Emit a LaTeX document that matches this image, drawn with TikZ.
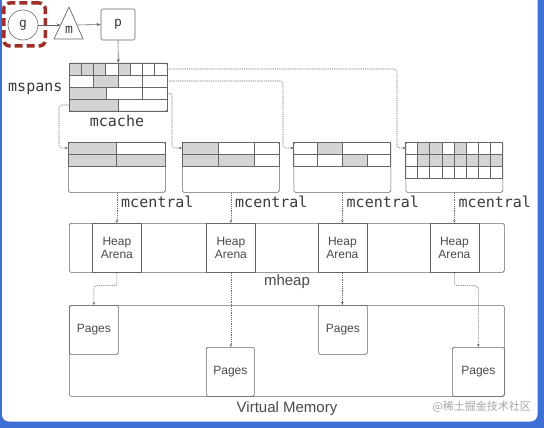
\documentclass[tikz,border=0pt]{standalone}
\usepackage{fontspec}
\setmainfont{Liberation Sans}
\newfontfamily\monof{DejaVu Sans Mono}
\newfontfamily\cjkf{Noto Sans CJK SC}
\usetikzlibrary{arrows.meta,calc}
\definecolor{frameblue}{HTML}{3E6FD5}
\definecolor{linec}{HTML}{666666}
\definecolor{cellg}{HTML}{D4D4D4}
\definecolor{cellw}{HTML}{FFFFFF}
\definecolor{txt}{HTML}{3A3A3A}
\definecolor{stxt}{HTML}{4A4A4A}
\definecolor{gred}{HTML}{9E2F29}
\begin{document}
\begin{tikzpicture}[x=1pt,y=-1pt,
  box/.style={draw=linec, line width=0.7pt, rounded corners=1.5pt, inner sep=0pt, anchor=north west},
  sqbox/.style={draw=linec, line width=0.7pt, inner sep=0pt, anchor=north west},
  cell/.style={draw=linec, line width=0.6pt},
  conn/.style={draw=linec, line width=0.6pt, -{Stealth[length=4pt,width=3pt]}},
  dconn/.style={draw=linec, line width=0.55pt, dash pattern=on 1.2pt off 1pt, rounded corners=3pt, -{Stealth[length=3pt,width=2.5pt]}},
  mono/.style={font=\monof\fontsize{15}{17}\selectfont, text=txt, inner sep=0pt},
  sans/.style={font=\fontsize{12}{13}\selectfont, text=stxt, align=center},
  big/.style={font=\fontsize{15}{17}\selectfont, text=stxt, inner sep=0pt},
]
\useasboundingbox (0,0) rectangle (544,428);
% frame
\fill[frameblue] (0,0) rectangle (544,428);
\fill[white, rounded corners=7pt] (2,-10) rectangle (537.5,421.5);

% g, m, p
\node[circle, draw=linec, line width=0.6pt, minimum size=30pt, inner sep=0pt, font=\monof\fontsize{13}{15}\selectfont, text=txt] (g) at (23,25) {g};
\node[draw=gred, line width=3.5pt, dash pattern=on 8pt off 4pt, rounded corners=6pt, minimum width=41.5pt, minimum height=43pt, inner sep=0pt] (gsel) at (24.5,24.5) {};
\coordinate (mtop) at (69,7);
\coordinate (mbl) at (54,39);
\coordinate (mbr) at (83,39);
\draw[linec, line width=0.7pt, line join=round] (mtop) -- (mbl) -- (mbr) -- cycle;
\node[font=\monof\fontsize{13}{15}\selectfont, text=txt] (m) at (69,30) {m};
\coordinate (mleft) at (60.5,25);
\coordinate (mright) at (77.5,25);
\node[box, anchor=center, minimum width=34pt, minimum height=31pt, font=\monof\fontsize{13}{15}\selectfont, text=txt] (p) at (118,24.5) {p};
\draw[conn] (g.east) -- (mleft);
\draw[conn] (mright) -- (p.west);

% mcache
\foreach \c [count=\i from 0] in {g,g,g,w,g,w,w,w}
  \draw[cell, fill=cell\c] ({69+12.25*\i},63) rectangle ++(12.25,12);
\foreach \a/\b/\c in {69/93.5/w,93.5/118/g,118/142.5/w,142.5/167/w}
  \draw[cell, fill=cell\c] (\a,75) rectangle (\b,87);
\foreach \a/\b/\c in {69/106/g,106/142.5/w,142.5/167/w}
  \draw[cell, fill=cell\c] (\a,87) rectangle (\b,99);
\foreach \a/\b/\c in {69/118/g,118/167/w}
  \draw[cell, fill=cell\c] (\a,99) rectangle (\b,111);
\node[box, minimum width=98pt, minimum height=48pt] (mcache) at (69,63) {};
\draw[conn] (p.south) -- (mcache.north);
\node[mono, anchor=west] (mspans) at (8,89) {mspans};
\node[mono] (mcachelbl) at (117,121) {mcache};

% mcentral boxes
\foreach \a/\b/\c in {68/116.5/g,116.5/165/w} \draw[cell, fill=cell\c] (\a,142) rectangle (\b,154);
\foreach \a/\b/\c in {68/116.5/g,116.5/165/g} \draw[cell, fill=cell\c] (\a,154) rectangle (\b,166);
\node[box, minimum width=97pt, minimum height=50pt] (mc1) at (68,142) {};

\foreach \a/\b/\c in {182/218/g,218/254/w,254/279/w} \draw[cell, fill=cell\c] (\a,142) rectangle (\b,154);
\foreach \a/\b/\c in {182/218/g,218/254/g,254/279/w} \draw[cell, fill=cell\c] (\a,154) rectangle (\b,166);
\node[box, minimum width=97pt, minimum height=50pt] (mc2) at (182,142) {};

\foreach \a/\b/\c in {293.5/317/w,317/342/g,342/390.5/w} \draw[cell, fill=cell\c] (\a,142) rectangle (\b,154);
\foreach \a/\b/\c in {293.5/317/w,317/342/w,342/367/g,367/390.5/w} \draw[cell, fill=cell\c] (\a,154) rectangle (\b,166);
\node[box, minimum width=97pt, minimum height=50pt] (mc3) at (293.5,142) {};

\foreach \c [count=\i from 0] in {w,g,g,w,g,w,w,w}
  \draw[cell, fill=cell\c] ({405.5+12.125*\i},142) rectangle ++(12.125,12);
\foreach \c [count=\i from 0] in {w,g,g,g,g,g,g,g}
  \draw[cell, fill=cell\c] ({405.5+12.125*\i},154) rectangle ++(12.125,12);
\foreach \c [count=\i from 0] in {w,w,w,w,w,w,w,w}
  \draw[cell, fill=cell\c] ({405.5+12.125*\i},166) rectangle ++(12.125,12);
\node[box, minimum width=97pt, minimum height=50pt] (mc4) at (405.5,142) {};

% mcache -> mcentral
\coordinate (r1e) at (167,69);
\coordinate (r2e) at (167,81);
\coordinate (r3e) at (167,93);
\coordinate (r4w) at (69,105);
\draw[dconn] (r4w) -- ++(-10,0) |- ($(mc1.north west)+(0,6)$);
\draw[dconn] (r3e) -- ++(5,0) |- ($(mc2.north west)+(0,6)$);
\draw[dconn] (r2e) -- ++(116,0) |- ($(mc3.north west)+(0,6)$);
\draw[dconn] (r1e) -- ++(230,0) |- ($(mc4.north west)+(0,6)$);

% mcentral labels
\node[mono, anchor=west] (lc1) at (121,202) {mcentral};
\node[mono, anchor=west] (lc2) at (235,202) {mcentral};
\node[mono, anchor=west] (lc3) at (346.5,202) {mcentral};
\node[mono, anchor=west] (lc4) at (458.5,202) {mcentral};

% mheap
\node[box, minimum width=435pt, minimum height=49pt] (mheap) at (69,223) {};
\node[sqbox, sans, minimum width=49pt, minimum height=49pt] (ha1) at (92,223) {Heap\\Arena};
\node[sqbox, sans, minimum width=49pt, minimum height=49pt] (ha2) at (206,223) {Heap\\Arena};
\node[sqbox, sans, minimum width=49pt, minimum height=49pt] (ha3) at (317.5,223) {Heap\\Arena};
\node[sqbox, sans, minimum width=49pt, minimum height=49pt] (ha4) at (429.5,223) {Heap\\Arena};
\node[big] (mheaplbl) at (287,282) {mheap};

\draw[dconn] (mc1.south) -- (ha1.north);
\draw[dconn] (mc2.south) -- (ha2.north);
\draw[dconn] (mc3.south) -- (ha3.north);
\draw[dconn] (mc4.south) -- (ha4.north);

% Virtual memory
\node[box, minimum width=435pt, minimum height=91pt] (vm) at (69,305) {};
\node[box, sans, minimum width=49pt, minimum height=49pt] (pg1) at (69,305) {Pages};
\node[box, sans, minimum width=48pt, minimum height=49pt] (pg2) at (206,347) {Pages};
\node[box, sans, minimum width=49pt, minimum height=49pt] (pg3) at (318,305) {Pages};
\node[box, sans, minimum width=52pt, minimum height=49pt] (pg4) at (452,347) {Pages};
\node[big] (vmlbl) at (287,409) {Virtual Memory};

\draw[dconn] (ha1.south) -- ++(0,13) -| (pg1.north);
\draw[dconn] (ha2.south) -- (ha2.south |- pg2.north);
\draw[dconn] (ha3.south) -- (ha3.south |- pg3.north);
\draw[dconn] (ha4.south) -- ++(0,13) -| (pg4.north);

\node[font=\cjkf\fontsize{11}{13}\selectfont, text=black!35, anchor=east, inner sep=0pt] (wm) at (531,407) {@稀土掘金技术社区};
\end{tikzpicture}
\end{document}
